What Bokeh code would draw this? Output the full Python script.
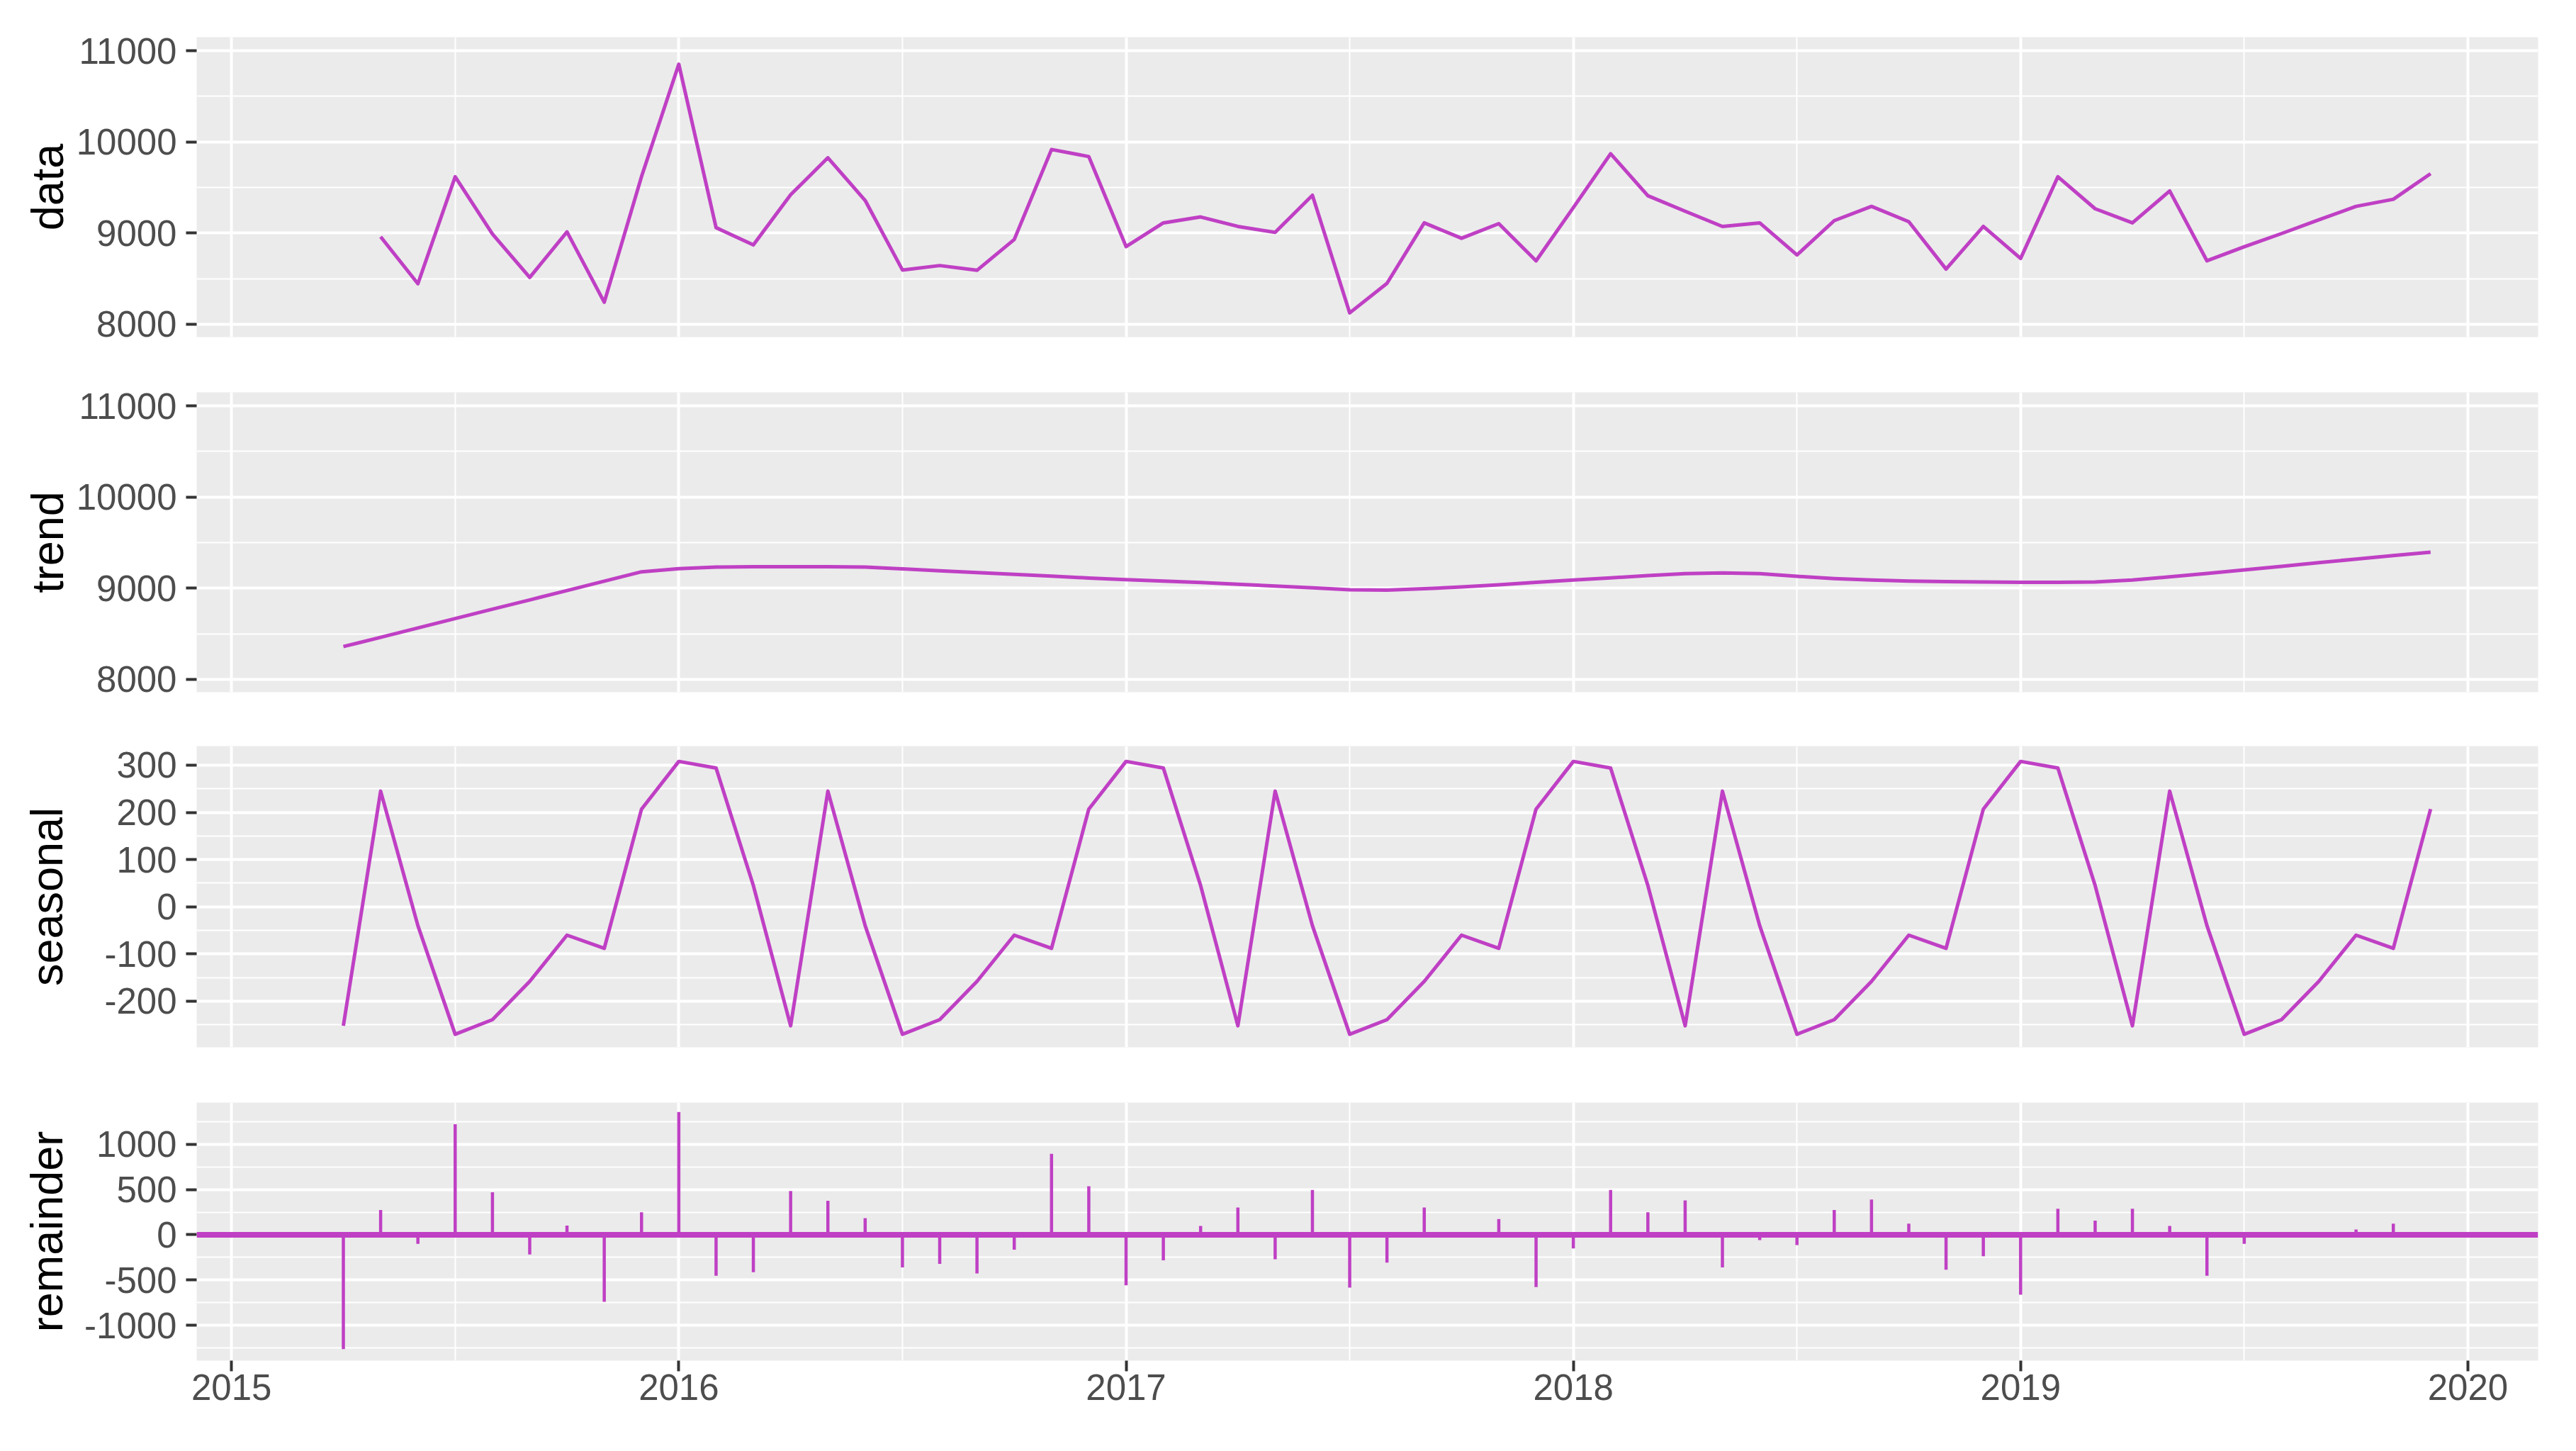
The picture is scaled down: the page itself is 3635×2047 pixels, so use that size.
from bokeh.plotting import figure
from bokeh.models import Range1d, FixedTicker, Span, CustomJSTickFormatter
from bokeh.layouts import column
from bokeh.embed import file_html
from bokeh.resources import INLINE

# ---------------- data ----------------
start_year = 2015
start_month = 4          # first observation: April 2015
n_months = 57            # April 2015 .. December 2019
time = [start_year + (start_month - 1 + i) / 12 for i in range(n_months)]

NA = float("nan")
data_values = [
    NA, 8960, 8445, 9618, 8990, 8514, 9013, 8242, 9620,
    10852, 9060, 8870, 9420, 9826, 9358, 8595, 8644, 8592, 8930, 9917, 9839,
    8852, 9112, 9177, 9073, 9008, 9415, 8125, 8449, 9112, 8943, 9104, 8696,
    9280, 9870, 9410, 9240, 9073, 9112, 8760, 9137, 9293, 9125, 8605, 9073,
    8722, 9618, 9267, 9112, 9462, 8696, 8850, 8995, 9145, 9293, 9371, 9652,
]
trend_values = [
    8360, 8462, 8565, 8667, 8770, 8872, 8975, 9077, 9180,
    9215, 9232, 9236, 9236, 9235, 9232, 9212, 9192, 9172, 9152, 9132, 9112,
    9094, 9078, 9062, 9044, 9024, 9004, 8984, 8980, 8994, 9014, 9038, 9064,
    9090, 9114, 9138, 9160, 9168, 9160, 9130, 9106, 9090, 9078, 9072, 9068,
    9065, 9064, 9068, 9090, 9125, 9162, 9200, 9240, 9280, 9320, 9358, 9395,
]
seasonal_values = [
    -252, 245, -40, -270, -239, -158, -60, -88, 207,
    308, 294, 45, -252, 245, -40, -270, -239, -158, -60, -88, 207,
    308, 294, 45, -252, 245, -40, -270, -239, -158, -60, -88, 207,
    308, 294, 45, -252, 245, -40, -270, -239, -158, -60, -88, 207,
    308, 294, 45, -252, 245, -40, -270, -239, -158, -60, -88, 207,
]
remainder_values = [
    -1264, 275, -100, 1223, 471, -217, 102, -741, 249,
    1359, -453, -414, 484, 377, 183, -361, -322, -427, -165, 895, 537,
    -558, -283, 97, 301, -270, 495, -584, -309, 301, -15, 175, -579,
    -152, 495, 249, 380, -361, -60, -113, 275, 390, 123, -387, -238,
    -662, 288, 157, 288, 97, -453, -100, 0, 30, 58, 123, 20,
]

x_ticks = [2015, 2016, 2017, 2018, 2019, 2020]
x_minor = [2015.5, 2016.5, 2017.5, 2018.5, 2019.5]

level_ticks = [8000, 9000, 10000, 11000]
level_minor = [8500, 9500, 10500]
seasonal_ticks = [-200, -100, 0, 100, 200, 300]
seasonal_minor = [-250, -150, -50, 50, 150, 250]
remainder_ticks = [-1000, -500, 0, 500, 1000]
remainder_minor = [-1250, -750, -250, 250, 750, 1250]

# ---------------- style ----------------
LINE = "#BF40C4"
PANEL = "#EBEBEB"
FONT = "Liberation Sans"
TICK_PX = "51px"
TITLE_PX = "63px"

x_range = Range1d(2014.922, 2020.157)


def make_panel(title, y_range, ticks, minor, frame_h, top, bottom, title_standoff, show_x=False):
    p = figure(
        x_range=x_range, y_range=y_range,
        frame_width=3304, frame_height=frame_h,
        min_border_left=277, min_border_right=38,
        min_border_top=top, min_border_bottom=bottom,
        x_axis_location="below" if show_x else None,
        toolbar_location=None, output_backend="svg",
        background_fill_color=PANEL, border_fill_color="white",
        outline_line_color=None,
    )
    yt = FixedTicker(ticks=ticks, minor_ticks=minor)
    xt = FixedTicker(ticks=x_ticks, minor_ticks=x_minor)
    for g, t in ((p.ygrid, yt), (p.xgrid, xt)):
        g.ticker = t
        g.grid_line_color = "white"
        g.grid_line_width = 4
        g.minor_grid_line_color = "white"
        g.minor_grid_line_width = 2
    axes = [(p.yaxis, yt)]
    if show_x:
        axes.append((p.xaxis, xt))
    for ax, t in axes:
        ax.ticker = t
        ax.formatter = CustomJSTickFormatter(code="return String(tick);")
        ax.axis_line_color = None
        ax.major_tick_out = 15
        ax.major_tick_in = 0
        ax.major_tick_line_width = 4
        ax.major_tick_line_color = "#333333"
        ax.minor_tick_line_color = None
        ax.major_label_text_font = FONT
        ax.major_label_text_font_size = TICK_PX
        ax.major_label_text_color = "#4D4D4D"
    p.yaxis.major_label_standoff = 13
    p.yaxis.axis_label = title
    p.yaxis.axis_label_text_font = FONT
    p.yaxis.axis_label_text_font_size = TITLE_PX
    p.yaxis.axis_label_text_font_style = "normal"
    p.yaxis.axis_label_text_color = "black"
    p.yaxis.axis_label_standoff = title_standoff
    if show_x:
        p.xaxis.major_label_standoff = 4
    return p


p_data = make_panel("data", Range1d(7860, 11148), level_ticks, level_minor, 423, 52, 39, 3)
p_data.line(time, data_values, line_color=LINE, line_width=5, line_join="round")

p_trend = make_panel("trend", Range1d(7860, 11148), level_ticks, level_minor, 423, 39, 38, 3)
p_trend.line(time, trend_values, line_color=LINE, line_width=5, line_join="round")

p_seas = make_panel("seasonal", Range1d(-297.6, 340.5), seasonal_ticks, seasonal_minor, 425, 38, 39, 43)
p_seas.line(time, seasonal_values, line_color=LINE, line_width=5, line_join="round")

p_rem = make_panel("remainder", Range1d(-1392, 1462), remainder_ticks, remainder_minor, 364, 39, 100, 15, show_x=True)
p_rem.add_layout(Span(location=0, dimension="width", line_color=LINE, line_width=8))
p_rem.segment(x0=time, y0=[0] * n_months, x1=time, y1=remainder_values,
              line_color=LINE, line_width=4.5)

layout = column(p_data, p_trend, p_seas, p_rem)
open("out.html", "w").write(file_html(layout, INLINE))
